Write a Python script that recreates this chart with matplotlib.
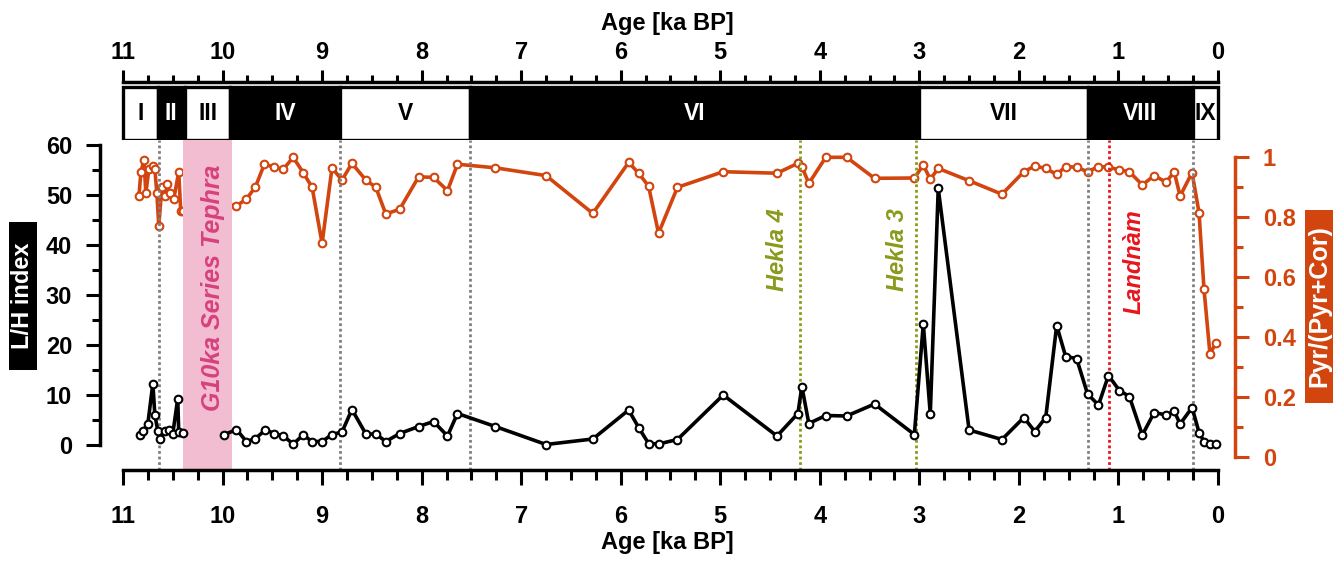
import matplotlib
matplotlib.use("Agg")
import matplotlib.pyplot as plt
import numpy as np
from matplotlib.patches import Rectangle
from matplotlib.ticker import MultipleLocator, FixedLocator

plt.rcParams['font.family'] = ['Liberation Sans', 'DejaVu Sans']
plt.rcParams['font.weight'] = 'bold'

# ---- data ----
red_age = [10.84, 10.82, 10.79, 10.77, 10.74, 10.70, 10.68, 10.66, 10.64, 10.61,
           10.58, 10.56, 10.53, 10.49, 10.44, 10.42, 10.40,
           9.99, 9.86, 9.76, 9.67, 9.58, 9.48, 9.39, 9.29, 9.19, 9.10, 9.00,
           8.90, 8.80, 8.70, 8.56, 8.46, 8.36, 8.22, 8.03, 7.88, 7.74, 7.64,
           7.26, 6.75, 6.28, 5.92, 5.82, 5.72, 5.62, 5.43, 4.97, 4.43, 4.22,
           4.18, 4.11, 3.94, 3.73, 3.45, 3.05, 2.96, 2.89, 2.81, 2.50, 2.17,
           1.95, 1.84, 1.73, 1.62, 1.53, 1.42, 1.31, 1.20, 1.10, 0.99, 0.89,
           0.76, 0.64, 0.52, 0.44, 0.38, 0.26, 0.19, 0.14, 0.08, 0.02]
pyr_ratio = [0.87, 0.95, 0.99, 0.88, 0.96, 0.97, 0.96, 0.88, 0.77, 0.90,
             0.87, 0.91, 0.88, 0.86, 0.95, 0.82, 0.82,
             0.843, 0.837, 0.86, 0.90, 0.976, 0.966, 0.959, 0.999, 0.948, 0.899, 0.712,
             0.964, 0.923, 0.979, 0.923, 0.899, 0.81, 0.826, 0.934, 0.932, 0.888, 0.976,
             0.964, 0.938, 0.812, 0.982, 0.946, 0.903, 0.746, 0.899, 0.951, 0.946, 0.979,
             0.968, 0.912, 0.999, 0.999, 0.929, 0.93, 0.973, 0.926, 0.962, 0.921, 0.876,
             0.951, 0.97, 0.962, 0.942, 0.968, 0.966, 0.951, 0.968, 0.966, 0.957, 0.951,
             0.907, 0.938, 0.916, 0.951, 0.87, 0.948, 0.814, 0.559, 0.343, 0.381]

lh_age = [10.83, 10.80, 10.75, 10.70, 10.68, 10.65, 10.63, 10.58, 10.54, 10.50,
          10.45, 10.44, 10.40,
          9.99, 9.86, 9.76, 9.67, 9.57, 9.48, 9.39, 9.29, 9.19, 9.10, 9.00,
          8.90, 8.80, 8.70, 8.56, 8.46, 8.36, 8.22, 8.03, 7.88, 7.74, 7.64,
          7.26, 6.75, 6.28, 5.92, 5.82, 5.72, 5.62, 5.43, 4.97, 4.43, 4.22,
          4.18, 4.11, 3.94, 3.73, 3.45, 3.05, 2.96, 2.89, 2.81, 2.50, 2.17,
          1.95, 1.84, 1.73, 1.62, 1.53, 1.42, 1.31, 1.20, 1.10, 0.99, 0.89,
          0.76, 0.64, 0.52, 0.44, 0.38, 0.26, 0.19, 0.14, 0.08, 0.02]
lh_index = [2.0, 2.8, 4.3, 12.3, 6.0, 2.8, 1.3, 2.8, 3.0, 2.2,
            9.3, 2.6, 2.4,
            2.0, 3.1, 0.7, 1.3, 3.0, 2.3, 1.8, 0.2, 2.0, 0.7, 0.7,
            2.1, 2.6, 7.1, 2.2, 2.2, 0.7, 2.3, 3.7, 4.7, 1.8, 6.3,
            3.7, 0.1, 1.2, 7.0, 3.5, 0.3, 0.2, 1.1, 10.0, 1.8, 6.3,
            11.7, 4.3, 5.9, 5.8, 8.2, 2.1, 24.2, 6.2, 51.3, 3.0, 1.1,
            5.5, 2.7, 5.5, 23.9, 17.7, 17.3, 10.2, 8.0, 13.9, 10.9, 9.7,
            2.0, 6.5, 6.0, 6.8, 4.2, 7.5, 2.5, 0.7, 0.3, 0.3]

zone_edges = [11, 10.65, 10.38, 9.92, 8.82, 7.51, 3.0, 1.31, 0.25, 0]
zone_names = ['I', 'II', 'III', 'IV', 'V', 'VI', 'VII', 'VIII', 'IX']
zone_dark = [False, True, False, True, False, True, False, True, False]
zone_lines = [10.64, 8.82, 7.51, 1.31, 0.25]
hekla4, hekla3, landnam = 4.20, 3.03, 1.09
tephra = (10.40, 9.90)

RED = '#D2450F'
OLIVE = '#8A9A1C'
PINK_TXT = '#D6417E'

XL = (11.231, -0.171)

fig = plt.figure(figsize=(13.43, 5.62), dpi=100)
ax = fig.add_axes([0.07446, 0.1637, 0.8451, 0.58719])
ax2 = ax.twinx()
axz = fig.add_axes([0.07446, 0.75089, 0.8451, 0.1032])

# ---- zone bar ----
axz.set_xlim(XL)
axz.set_ylim(0, 1)
for i in range(len(zone_names)):
    x0, x1 = zone_edges[i], zone_edges[i + 1]
    fc = 'black' if zone_dark[i] else 'white'
    axz.add_patch(Rectangle((x1, 0), x0 - x1, 0.91, facecolor=fc,
                            edgecolor='black', lw=2.4, zorder=2))
    axz.text((x0 + x1) / 2, 0.455, zone_names[i], ha='center', va='center',
             fontsize=16.5, fontweight='bold',
             color='white' if zone_dark[i] else 'black', zorder=3)
for s in ['left', 'right', 'bottom']:
    axz.spines[s].set_visible(False)
axz.spines['top'].set_linewidth(2.5)
axz.spines['top'].set_bounds(0, 11)
axz.xaxis.tick_top()
axz.xaxis.set_label_position('top')
axz.set_yticks([])
axz.set_xticks(range(0, 12))
axz.xaxis.set_minor_locator(MultipleLocator(0.25))
axz.tick_params(axis='x', which='major', direction='out', length=9, width=2.2,
                labelsize=17, pad=4)
axz.tick_params(axis='x', which='minor', direction='out', length=5, width=2.2)
axz.set_xlabel('Age [ka BP]', fontsize=17, fontweight='bold', labelpad=8)

# ---- main axes ----
ax.set_xlim(XL)
ax.set_ylim(-5, 61)
ax2.set_ylim(-0.0433, 1.0567)

ax.axvspan(tephra[0], tephra[1], color='#F2BDD0', lw=0, zorder=0)
for a in zone_lines:
    ax.axvline(a, color='#808080', lw=2, ls=(0, (1, 1)), zorder=1)
ax.axvline(hekla4, color=OLIVE, lw=2, ls=(0, (1, 1)), zorder=1)
ax.axvline(hekla3, color=OLIVE, lw=2, ls=(0, (1, 1)), zorder=1)
ax.axvline(landnam, color='#E8141C', lw=2, ls=(0, (1, 1)), zorder=1)

ax.text(10.10, 31.4, 'G10ka Series Tephra', rotation=90, ha='center', va='center',
        fontsize=18, fontweight='bold', fontstyle='italic', color=PINK_TXT)
ax.text(4.42, 39, 'Hekla 4', rotation=90, ha='center', va='center',
        fontsize=17, fontweight='bold', fontstyle='italic', color=OLIVE)
ax.text(3.22, 39, 'Hekla 3', rotation=90, ha='center', va='center',
        fontsize=17, fontweight='bold', fontstyle='italic', color=OLIVE)
ax.text(0.84, 36.6, 'Landnàm', rotation=90, ha='center', va='center',
        fontsize=17, fontweight='bold', fontstyle='italic', color='#E8141C')

# the series break across the tephra layer
ra, rv = np.array(red_age), np.array(pyr_ratio)
la, lv = np.array(lh_age), np.array(lh_index)
sty = dict(lw=2.6, marker='o', ms=5.5, mfc='white', mew=1.5)
for m in (ra >= tephra[0], ra < tephra[0]):
    ax2.plot(ra[m], rv[m], color=RED, mec=RED, zorder=3, **sty)
for m in (la >= tephra[0], la < tephra[0]):
    ax.plot(la[m], lv[m], color='black', mec='black', zorder=4, **sty)
ax.set_zorder(ax2.get_zorder() + 1)
ax.patch.set_visible(False)

for s in ['top', 'right']:
    ax.spines[s].set_visible(False)
for s in ['top', 'left', 'bottom']:
    ax2.spines[s].set_visible(False)
ax.spines['left'].set_bounds(0, 60)
ax.spines['bottom'].set_bounds(0, 11)
ax2.spines['right'].set_bounds(0, 1)
ax.spines['left'].set_linewidth(2.5)
ax.spines['bottom'].set_linewidth(2.5)
ax2.spines['right'].set_linewidth(2.5)
ax2.spines['right'].set_color(RED)

ax.set_xticks(range(0, 12))
ax.xaxis.set_minor_locator(MultipleLocator(0.25))
ax.set_yticks(range(0, 61, 10))
ax.yaxis.set_minor_locator(FixedLocator([5, 15, 25, 35, 45, 55]))
ax.tick_params(axis='x', which='major', length=11, width=2.2, labelsize=17, pad=14)
ax.tick_params(axis='x', which='minor', length=7, width=2.2)
ax.tick_params(axis='y', which='major', length=10, width=2.2, labelsize=17, pad=10)
ax.tick_params(axis='y', which='minor', length=6, width=2.2)
ax.set_xlabel('Age [ka BP]', fontsize=17, fontweight='bold', labelpad=2)

ax2.set_yticks([0, 0.2, 0.4, 0.6, 0.8, 1])
ax2.set_yticklabels(['0', '0.2', '0.4', '0.6', '0.8', '1'])
ax2.yaxis.set_minor_locator(FixedLocator([0.1, 0.3, 0.5, 0.7, 0.9]))
ax2.tick_params(axis='y', which='major', length=10, width=2.2, labelsize=17,
                pad=10, colors=RED)
ax2.tick_params(axis='y', which='minor', length=6, width=2.2, colors=RED)

# axis title boxes
W, H = 1343.0, 562.0
fig.patches.append(Rectangle((9 / W, 1 - 370 / H), 28 / W, 148 / H,
                             transform=fig.transFigure, facecolor='black',
                             edgecolor='none'))
fig.patches.append(Rectangle((1305 / W, 1 - 403 / H), 28 / W, 193 / H,
                             transform=fig.transFigure, facecolor=RED,
                             edgecolor='none'))
fig.text(23 / W, 1 - 296 / H, 'L/H index', rotation=90, ha='center', va='center',
         fontsize=17, fontweight='bold', color='white')
fig.text(1319 / W, 1 - 306.5 / H, 'Pyr/(Pyr+Cor)', rotation=90, ha='center',
         va='center', fontsize=18, fontweight='bold', color='white')

fig.savefig('out.png', dpi=100)
